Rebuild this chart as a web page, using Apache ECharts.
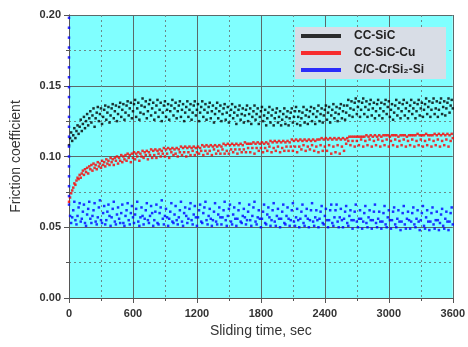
<!DOCTYPE html>
<html>
<head>
<meta charset="utf-8">
<script src="https://cdn.jsdelivr.net/npm/echarts@6/dist/echarts.min.js"></script>
<style>
  html, body { margin: 0; padding: 0; background: #fff; }
  #chart { width: 468px; height: 347px; }
</style>
</head>
<body>
<div id="chart"></div>
<script>
// sampled every 10 s from 0 to 3600 s
const sampleStep = 10;
const seriesNames = ["CC-SiC", "CC-SiC-Cu", "C/C-CrSi\u2082-Si"];
const xTicks = [0, 600, 1200, 1800, 2400, 3000, 3600];
const yTicks = [0.00, 0.05, 0.10, 0.15, 0.20];

const ccSic = [
  0.108,0.113,0.117,0.111,0.115,0.120,0.113,0.118,0.122,0.116,
  0.121,0.126,0.118,0.123,0.128,0.120,0.125,0.130,0.122,0.127,
  0.132,0.124,0.129,0.134,0.121,0.127,0.131,0.135,0.125,0.130,
  0.134,0.123,0.128,0.133,0.136,0.126,0.131,0.135,0.124,0.129,
  0.134,0.137,0.127,0.132,0.136,0.125,0.130,0.135,0.138,0.128,
  0.133,0.137,0.126,0.131,0.136,0.139,0.129,0.134,0.138,0.127,
  0.132,0.137,0.140,0.128,0.134,0.138,0.126,0.131,0.136,0.141,
  0.130,0.135,0.139,0.127,0.132,0.137,0.140,0.129,0.134,0.138,
  0.126,0.131,0.136,0.140,0.128,0.133,0.138,0.125,0.131,0.136,
  0.139,0.128,0.133,0.137,0.126,0.132,0.136,0.140,0.129,0.134,
  0.138,0.127,0.132,0.136,0.139,0.128,0.133,0.137,0.125,0.131,
  0.135,0.139,0.128,0.133,0.137,0.126,0.131,0.136,0.139,0.129,
  0.133,0.137,0.125,0.131,0.135,0.139,0.128,0.133,0.137,0.126,
  0.131,0.135,0.138,0.127,0.132,0.136,0.124,0.130,0.134,0.138,
  0.127,0.132,0.136,0.125,0.130,0.134,0.137,0.126,0.131,0.135,
  0.124,0.129,0.133,0.137,0.127,0.131,0.135,0.123,0.129,0.133,
  0.136,0.126,0.130,0.134,0.124,0.129,0.133,0.136,0.125,0.130,
  0.134,0.123,0.128,0.132,0.136,0.126,0.130,0.134,0.123,0.128,
  0.132,0.135,0.125,0.129,0.133,0.122,0.127,0.131,0.135,0.124,
  0.129,0.133,0.122,0.127,0.131,0.134,0.124,0.128,0.132,0.122,
  0.126,0.130,0.134,0.123,0.128,0.132,0.122,0.127,0.131,0.134,
  0.124,0.128,0.132,0.135,0.123,0.128,0.132,0.122,0.127,0.131,
  0.135,0.124,0.129,0.133,0.123,0.128,0.132,0.135,0.125,0.130,
  0.134,0.123,0.128,0.132,0.136,0.125,0.130,0.134,0.124,0.129,
  0.133,0.136,0.126,0.131,0.135,0.124,0.129,0.133,0.137,0.127,
  0.131,0.135,0.125,0.130,0.134,0.137,0.127,0.132,0.136,0.126,
  0.131,0.136,0.140,0.129,0.134,0.139,0.128,0.133,0.138,0.141,
  0.130,0.135,0.139,0.128,0.133,0.138,0.141,0.130,0.135,0.139,
  0.128,0.133,0.137,0.140,0.129,0.134,0.138,0.127,0.132,0.137,
  0.140,0.129,0.134,0.138,0.127,0.132,0.137,0.140,0.130,0.135,
  0.139,0.128,0.133,0.137,0.126,0.131,0.136,0.140,0.129,0.134,
  0.138,0.127,0.132,0.137,0.140,0.129,0.134,0.138,0.127,0.132,
  0.136,0.140,0.130,0.134,0.138,0.127,0.132,0.137,0.140,0.129,
  0.134,0.138,0.128,0.133,0.137,0.141,0.130,0.135,0.139,0.128,
  0.133,0.138,0.141,0.130,0.134,0.139,0.128,0.133,0.138,0.141,
  0.130,0.135,0.139,0.129,0.134,0.138,0.141,0.131,0.136,0.140,
  0.134
];

const ccSicCu = [
  0.068,0.071,0.074,0.076,0.078,0.081,0.080,0.083,0.085,0.084,
  0.087,0.085,0.088,0.090,0.087,0.091,0.089,0.092,0.088,0.093,
  0.091,0.094,0.090,0.095,0.092,0.094,0.091,0.096,0.093,0.095,
  0.092,0.097,0.094,0.096,0.093,0.098,0.095,0.097,0.094,0.099,
  0.096,0.098,0.094,0.099,0.097,0.100,0.095,0.099,0.097,0.101,
  0.096,0.100,0.098,0.101,0.097,0.102,0.099,0.101,0.096,0.102,
  0.099,0.103,0.098,0.102,0.100,0.103,0.097,0.102,0.100,0.104,
  0.099,0.103,0.101,0.104,0.098,0.103,0.101,0.105,0.099,0.104,
  0.101,0.105,0.099,0.104,0.102,0.105,0.100,0.104,0.102,0.106,
  0.100,0.105,0.102,0.106,0.099,0.105,0.103,0.106,0.101,0.105,
  0.102,0.106,0.100,0.105,0.103,0.107,0.101,0.106,0.103,0.107,
  0.100,0.106,0.103,0.107,0.101,0.106,0.104,0.107,0.101,0.106,
  0.103,0.107,0.102,0.106,0.104,0.108,0.101,0.107,0.104,0.108,
  0.102,0.107,0.104,0.108,0.101,0.107,0.105,0.108,0.102,0.107,
  0.104,0.108,0.102,0.107,0.105,0.109,0.102,0.108,0.104,0.109,
  0.102,0.108,0.105,0.109,0.103,0.108,0.105,0.109,0.102,0.108,
  0.105,0.109,0.103,0.108,0.105,0.110,0.103,0.109,0.106,0.109,
  0.103,0.109,0.106,0.110,0.102,0.109,0.106,0.110,0.104,0.109,
  0.106,0.110,0.103,0.109,0.106,0.110,0.104,0.109,0.107,0.111,
  0.103,0.110,0.106,0.111,0.104,0.110,0.107,0.111,0.103,0.110,
  0.106,0.111,0.104,0.110,0.107,0.111,0.104,0.110,0.107,0.112,
  0.104,0.111,0.107,0.112,0.103,0.111,0.107,0.112,0.105,0.111,
  0.108,0.112,0.104,0.111,0.107,0.112,0.105,0.111,0.108,0.112,
  0.104,0.111,0.107,0.112,0.103,0.112,0.108,0.113,0.104,0.112,
  0.107,0.113,0.104,0.112,0.108,0.113,0.102,0.112,0.107,0.113,
  0.103,0.112,0.108,0.113,0.102,0.112,0.107,0.113,0.104,0.112,
  0.109,0.113,0.111,0.114,0.108,0.114,0.111,0.114,0.107,0.114,
  0.111,0.114,0.108,0.114,0.112,0.114,0.107,0.114,0.111,0.115,
  0.108,0.114,0.112,0.115,0.107,0.114,0.111,0.115,0.108,0.114,
  0.112,0.115,0.107,0.114,0.111,0.115,0.108,0.115,0.112,0.115,
  0.107,0.114,0.111,0.115,0.108,0.115,0.112,0.115,0.107,0.114,
  0.111,0.115,0.108,0.115,0.112,0.115,0.107,0.114,0.111,0.115,
  0.108,0.115,0.112,0.115,0.107,0.115,0.111,0.116,0.108,0.115,
  0.112,0.115,0.107,0.115,0.111,0.116,0.108,0.115,0.112,0.115,
  0.107,0.115,0.111,0.116,0.108,0.115,0.112,0.116,0.107,0.115,
  0.111,0.116,0.108,0.115,0.112,0.116,0.107,0.115,0.111,0.116,
  0.113
];

const ccCrSi = [
  0.066,0.058,0.053,0.057,0.062,0.068,0.055,0.052,0.058,0.064,
  0.067,0.054,0.056,0.061,0.066,0.053,0.051,0.059,0.063,0.068,
  0.056,0.053,0.058,0.062,0.067,0.054,0.052,0.057,0.064,0.069,
  0.055,0.053,0.060,0.065,0.052,0.055,0.061,0.066,0.058,0.051,
  0.057,0.063,0.068,0.054,0.052,0.059,0.064,0.056,0.053,0.060,
  0.066,0.053,0.051,0.058,0.062,0.067,0.055,0.052,0.060,0.065,
  0.057,0.053,0.059,0.063,0.068,0.054,0.051,0.057,0.064,0.058,
  0.052,0.056,0.062,0.067,0.055,0.053,0.058,0.065,0.060,0.051,
  0.055,0.061,0.066,0.053,0.052,0.060,0.064,0.069,0.056,0.052,
  0.058,0.063,0.057,0.051,0.056,0.061,0.067,0.054,0.053,0.059,
  0.065,0.055,0.052,0.057,0.062,0.068,0.054,0.051,0.060,0.064,
  0.058,0.053,0.056,0.063,0.067,0.055,0.052,0.059,0.065,0.057,
  0.051,0.057,0.062,0.066,0.054,0.053,0.060,0.064,0.068,0.055,
  0.052,0.058,0.063,0.056,0.051,0.055,0.061,0.067,0.054,0.052,
  0.059,0.064,0.057,0.052,0.057,0.062,0.068,0.055,0.051,0.058,
  0.063,0.066,0.054,0.052,0.059,0.064,0.056,0.051,0.056,0.062,
  0.067,0.054,0.053,0.058,0.063,0.057,0.052,0.055,0.061,0.066,
  0.055,0.051,0.058,0.064,0.068,0.054,0.052,0.057,0.062,0.056,
  0.050,0.056,0.061,0.066,0.053,0.052,0.059,0.064,0.057,0.051,
  0.055,0.062,0.067,0.054,0.051,0.058,0.063,0.056,0.050,0.056,
  0.061,0.066,0.053,0.052,0.058,0.064,0.056,0.051,0.055,0.062,
  0.067,0.054,0.051,0.057,0.063,0.055,0.050,0.056,0.061,0.066,
  0.053,0.051,0.058,0.063,0.056,0.050,0.055,0.062,0.067,0.054,
  0.051,0.057,0.062,0.055,0.050,0.056,0.061,0.065,0.053,0.052,
  0.058,0.063,0.055,0.050,0.055,0.062,0.066,0.053,0.051,0.057,
  0.062,0.066,0.054,0.050,0.057,0.063,0.055,0.050,0.056,0.061,
  0.065,0.053,0.051,0.058,0.062,0.055,0.049,0.055,0.061,0.066,
  0.054,0.050,0.056,0.062,0.056,0.049,0.054,0.060,0.065,0.053,
  0.050,0.057,0.062,0.055,0.049,0.055,0.061,0.066,0.053,0.050,
  0.056,0.061,0.054,0.049,0.054,0.060,0.065,0.052,0.050,0.057,
  0.062,0.055,0.049,0.055,0.061,0.064,0.052,0.050,0.056,0.062,
  0.054,0.048,0.054,0.060,0.065,0.052,0.049,0.056,0.061,0.055,
  0.049,0.054,0.060,0.064,0.052,0.050,0.056,0.062,0.054,0.048,
  0.055,0.060,0.065,0.051,0.049,0.057,0.062,0.054,0.048,0.054,
  0.060,0.064,0.052,0.049,0.055,0.061,0.055,0.048,0.053,0.059,
  0.063,0.051,0.049,0.056,0.061,0.054,0.048,0.054,0.060,0.064,
  0.052
];

// start-up transient of the C/C-CrSi2-Si run, all at t ~ 0
const ccCrSiStart = [
  0.198,0.191,0.184,0.177,0.170,0.163,0.156,0.149,0.142,0.135,
  0.128,0.121,0.114,0.107,0.100,0.093,0.086,0.079,0.072
];

const colors = ["#000000", "#ff0000", "#0000ff"];

const toPoints = vals => vals.map((v, i) => [i * sampleStep, v]);

const chart = echarts.init(document.getElementById("chart"));
const labelFont = { fontFamily: "Liberation Sans, Arial", fontWeight: "bold", fontSize: 11, color: "#333" };

const axisCommon = {
  axisLine: { show: true, lineStyle: { color: "#555", width: 1 } },
  splitLine: { show: true, lineStyle: { color: "#5a6a6a", width: 1 } },
  minorTick: { show: true, splitNumber: 2, length: 3, lineStyle: { color: "#555" } },
  minorSplitLine: { show: true, lineStyle: { color: "#6a8a8a", type: [2, 3], width: 1 } },
};

chart.setOption({
  animation: false,
  grid: { left: 69, right: 15, top: 15, bottom: 49, show: true, backgroundColor: "#80ffff", borderWidth: 0 },
  legend: {
    data: seriesNames.map(n => ({ name: n, icon: "rect" })),
    orient: "vertical",
    left: 295, top: 27,
    padding: [3, 22, 3, 6],
    itemWidth: 40, itemHeight: 4,
    itemGap: 5,
    backgroundColor: "#d8dde6",
    textStyle: { fontFamily: "Liberation Sans, Arial", fontWeight: "bold", fontSize: 12, color: "#222", padding: [0, 0, 0, 8] },
  },
  xAxis: [{
    type: "value", min: 0, max: 3600, interval: 600,
    ...axisCommon,
    axisTick: { show: true, length: 5, inside: false, lineStyle: { color: "#555" } },
    axisLabel: { ...labelFont, margin: 10, formatter: v => (xTicks.includes(v) ? String(v) : "") },
    name: "Sliding time, sec", nameLocation: "middle", nameGap: 25,
    nameTextStyle: { fontFamily: "Liberation Sans, Arial", fontSize: 14, color: "#333" },
  }, {
    type: "value", min: 0, max: 3600, interval: 600, position: "top",
    axisLine: { show: true, lineStyle: { color: "#555" } },
    axisTick: { show: true, inside: true, length: 4, lineStyle: { color: "#555" } },
    minorTick: { show: true, splitNumber: 2, length: 3, lineStyle: { color: "#555" } },
    axisLabel: { show: false }, splitLine: { show: false },
  }],
  yAxis: [{
    type: "value", min: 0, max: 0.2, interval: 0.05,
    ...axisCommon,
    axisTick: { show: true, length: 5, inside: false, lineStyle: { color: "#555" } },
    axisLabel: { ...labelFont, margin: 8, formatter: v => v.toFixed(2) },
    name: "Friction coefficient", nameLocation: "middle", nameGap: 46,
    nameTextStyle: { fontFamily: "Liberation Sans, Arial", fontSize: 14, color: "#333" },
  }, {
    type: "value", min: 0, max: 0.2, interval: 0.05, position: "right",
    axisLine: { show: true, lineStyle: { color: "#555" } },
    axisTick: { show: true, inside: true, length: 4, lineStyle: { color: "#555" } },
    minorTick: { show: true, splitNumber: 2, length: 3, lineStyle: { color: "#555" } },
    axisLabel: { show: false }, splitLine: { show: false },
  }],
  series: [
    { name: seriesNames[0], type: "scatter", symbol: "rect", symbolSize: 2.5, itemStyle: { color: colors[0] }, data: toPoints(ccSic) },
    { name: seriesNames[1], type: "scatter", symbol: "rect", symbolSize: 2.5, itemStyle: { color: colors[1] }, data: toPoints(ccSicCu) },
    { name: seriesNames[2], type: "scatter", symbol: "rect", symbolSize: 2.5, itemStyle: { color: colors[2] },
      data: ccCrSiStart.map(v => [0, v]).concat(toPoints(ccCrSi)) },
  ],
});
</script>
</body>
</html>
